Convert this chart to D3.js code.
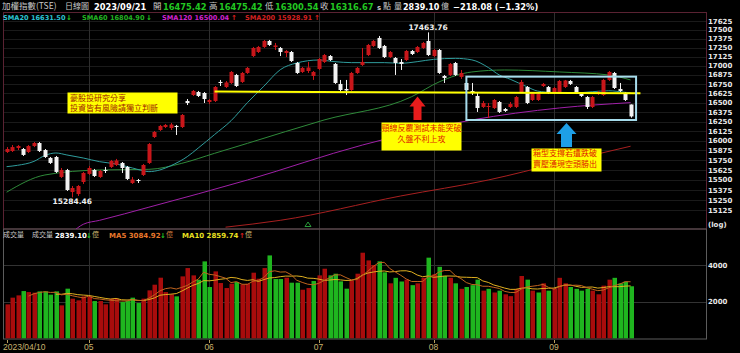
<!DOCTYPE html>
<meta charset="utf-8">
<head>
    <title>加權指數(TSE) 日線圖</title>
    <script src="https://cdn.jsdelivr.net/npm/d3@7/dist/d3.min.js"></script>
</head>

<style>
    body { margin: 0; background: #000; }
    svg { display: block; background: #000; }
    .num { font-family: "DejaVu Sans", sans-serif; font-weight: bold; }
    .cjk { font-family: "Noto Sans CJK TC", sans-serif; }
</style>

<svg></svg>

<script>
    // daily OHLC, 2023/04/10 .. 2023/09/21
    var opens = [15855,15867,15906,15893,15855,15931,15970,15880,15779,15791,
        15538,15626,15350,15325,15475,15576,15626,15538,15626,15664,
        15689,15715,15664,15462,15500,15563,15715,16048,16139,16178,
        16165,16192,16178,16522,16602,16642,16629,16508,16522,16778,
        16710,16764,16873,16778,16900,17133,17189,17259,17343,17259,
        17245,17175,17189,17037,16914,16927,16859,16955,17051,17133,
        17024,16751,16683,16669,16900,17010,17147,17273,17385,17273,
        17119,17106,17051,17078,17203,17189,17245,17343,17133,17217,
        16859,16873,17037,16846,16764,16656,16589,16442,16442,16428,
        16508,16415,16442,16442,16642,16710,16535,16535,16723,16710,
        16629,16642,16710,16791,16710,16629,16575,16442,16615,16602,
        16805,16900,16683,16629,16475.42];
    var highs = [15918,15944,15944,15906,15944,15983,15983,15893,15791,15804,
        15651,15639,15425,15437,15601,15676,15639,15626,15664,15753,
        15766,15727,15676,15538,15513,15702,15970,16126,16205,16218,
        16231,16205,16349,16548,16669,16656,16642,16548,16723,16805,
        16791,16927,16887,16914,16982,17259,17273,17357,17357,17315,
        17259,17217,17203,17051,16982,17051,16927,17106,17161,17147,
        17037,16805,16805,16914,16982,17245,17301,17357,17413,17287,
        17203,17119,17092,17217,17217,17273,17329,17463.76,17231,17231,
        16873,17037,17051,16941,16778,16764,16642,16522,16495,16548,
        16522,16428,16508,16589,16805,16723,16642,16629,16764,16723,
        16710,16805,16805,16805,16723,16642,16589,16589,16656,16819,
        16927,16914,16764,16642,16475.42];
    var lows = [15842,15855,15880,15804,15842,15918,15855,15779,15702,15588,
        15525,15363,15284.46,15301,15450,15563,15538,15525,15588,15651,
        15676,15588,15500,15450,15462,15550,15702,16035,16126,16165,
        16139,16074,16165,16468,16589,16575,16495,16481,16508,16723,
        16696,16751,16710,16764,16887,17119,17175,17245,17273,17217,
        17133,17119,17051,16887,16900,16900,16805,16941,17037,17064,
        16751,16629,16602,16656,16887,16996,17133,17259,17231,17106,
        17106,16873,16941,17064,17147,17175,17231,17133,17119,16887,
        16764,16859,16859,16819,16656,16602,16376,16428,16296,16415,
        16362,16376,16428,16428,16629,16481,16522,16522,16710,16615,
        16615,16629,16696,16737,16615,16575,16415,16428,16602,16589,
        16791,16683,16642,16522,16300.54];
    var closes = [15893,15918,15931,15817,15931,15970,15867,15791,15715,15601,
        15626,15375,15400,15425,15588,15651,15550,15613,15616,15740,
        15746,15651,15513,15506,15487,15689,15957,16113,16192,16205,
        16211,16178,16336,16495,16656,16589,16548,16535,16710,16764,
        16771,16914,16723,16900,16969,17245,17259,17343,17287,17280,
        17189,17203,17064,16900,16969,16975,16914,17092,17147,17078,
        16764,16669,16663,16900,16969,17051,17287,17343,17245,17119,
        17189,17037,17024,17203,17161,17259,17315,17147,17217,16900,
        16832,17024,16873,16900,16669,16629,16428,16495,16455,16535,
        16376,16389,16481,16575,16778,16495,16629,16615,16751,16629,
        16696,16791,16798,16751,16629,16589,16442,16575,16642,16805,
        16914,16696,16656,16534.75,16316.67];
    // turnover, 億
    var volumes = [1853,2218,2343,2578,2523,2490,2561,2561,2381,2561,
        1798,2708,2163,2071,2289,2289,2033,2033,1853,2163,
        2163,1980,2033,2218,1925,2163,2616,2925,3307,2523,
        2398,2289,3379,3833,3434,3197,4197,2798,3652,3016,
        2743,2980,3070,2943,2980,3580,3252,3833,4523,3234,
        3234,3307,3034,3034,2652,2743,3125,3434,3797,3434,
        3525,3107,2708,3161,3525,4670,4251,4000,4200,3600,
        3000,3300,3100,3200,2900,3000,3300,4400,3500,3900,
        3400,3300,3000,2700,2800,2900,3200,2600,2700,2500,
        2600,2400,2300,2700,3400,3200,2600,2500,3000,2600,
        2700,3300,3000,2800,2700,2600,2700,2600,2400,2872.8,
        3200,3300,3000,3085.5,2839.10];

    // moving averages: [day index, value]
    var sma20 = [[0,15668],[2,15685],[5,15735],[7,15810],[9,15842],[11,15817],[14,15778],[17,15731],
        [20,15702],[23,15651],[26,15605],[28,15626],[30,15680],[33,15795],[35,15905],[38,16080],
        [41,16260],[44,16500],[47,16720],[50,16945],[53,17037],[57,17078],[60,17055],[63,17042],
        [69,17042],[72,17033],[75,17055],[78,17087],[82,17101],[85,17080],[88,16975],[90,16873],
        [92,16815],[95,16715],[97,16655],[100,16633],[103,16625],[107,16646],[110,16659],[113,16638],[114,16631.50]];
    var sma60 = [[0,15348],[7,15563],[17,15626],[26,15634],[32,15710],[38,15838],[44,15966],[58,16270],
        [74,16579],[79,16778],[85,16914],[91,16941],[101,16914],[110,16873],[114,16804.90]];
    var sma120 = [[12,14860],[14,14955],[17,15003],[26,15163],[44,15500],[65,15944],[85,16270],[101,16429],[114,16500.04]];
    var sma200 = [[40,14920],[50,15003],[72,15301],[88,15500],[101,15715],[114,15928.91]];

    var monthTickIdx = [0, 15, 37, 57, 78, 100];
    var monthTickLabels = ["2023/04/10", "05", "06", "07", "08", "09"];
    var priceTicks = d3.range(15125, 17626, 125);
    var volTicks = [2000, 4000];

    // annotations in data space
    var supportLine = [[38, 16648], [115.8, 16624]];
    var boxRange = {i0: 84, i1: 115, hi: 16850, lo: 16270};

    // ---------------- layout ----------------
    var W = 740, H = 353;
    var pL = 3, pR = 706, pT = 12.5, pB = 229, vB = 339;
    var svg = d3.select('svg').attr('width', W).attr('height', H);

    var n = closes.length;
    var x = d3.scaleLinear().domain([0, n - 1]).range([6.6, 630.6]);
    var y = d3.scaleLog().domain([15125, 17625]).range([210.3, 21]);
    var yv = d3.scaleLinear().domain([0, 4000]).range([338.3, 265]);

    var RED = '#c8161a', WHITE = '#f2f2f2', VRED = '#a80c0c', VGREEN = '#1fb51f';

    svg.append('clipPath').attr('id', 'clipP').append('rect')
        .attr('x', pL).attr('y', pT).attr('width', pR - pL).attr('height', pB - pT);
    svg.append('clipPath').attr('id', 'clipV').append('rect')
        .attr('x', pL).attr('y', pB).attr('width', pR - pL).attr('height', vB - pB);

    // grid
    var grid = svg.append('g');
    grid.selectAll('line.h').data(priceTicks).enter().append('line')
        .attr('x1', pL).attr('x2', pR)
        .attr('y1', function (d) { return Math.round(y(d)) + 0.5; })
        .attr('y2', function (d) { return Math.round(y(d)) + 0.5; })
        .attr('stroke', '#1a1a1a');
    grid.selectAll('line.vh').data(volTicks).enter().append('line')
        .attr('x1', pL).attr('x2', pR)
        .attr('y1', function (d) { return Math.round(yv(d)) + 0.5; })
        .attr('y2', function (d) { return Math.round(yv(d)) + 0.5; })
        .attr('stroke', '#333');
    grid.selectAll('line.v').data(monthTickIdx.slice(1)).enter().append('line')
        .attr('x1', function (d) { return Math.round(x(d)) + 0.5; })
        .attr('x2', function (d) { return Math.round(x(d)) + 0.5; })
        .attr('y1', pT).attr('y2', vB)
        .attr('stroke', '#2e2e2e');

    // frames
    svg.append('rect').attr('x', pL + 0.5).attr('y', pT).attr('width', pR - pL).attr('height', pB - pT)
        .attr('fill', 'none').attr('stroke', '#5a2232');
    svg.append('rect').attr('x', pL + 0.5).attr('y', pB).attr('width', pR - pL).attr('height', vB - pB)
        .attr('fill', 'none').attr('stroke', '#5c5c5c');

    // moving averages, price panel
    var maLine = d3.line()
        .x(function (d) { return x(d[0]); })
        .y(function (d) { return y(d[1]); })
        .curve(d3.curveMonotoneX);
    var maG = svg.append('g').attr('clip-path', 'url(#clipP)').attr('fill', 'none').attr('stroke-width', 1);
    maG.append('path').attr('d', maLine(sma200)).attr('stroke', '#a82020');
    maG.append('path').attr('d', maLine(sma120)).attr('stroke', '#a020a8');
    maG.append('path').attr('d', maLine(sma60)).attr('stroke', '#2f8a3a');
    maG.append('path').attr('d', maLine(sma20)).attr('stroke', '#2f9c9c');

    // candles
    var idx = d3.range(n);
    var cg = svg.append('g');
    cg.selectAll('line.wick').data(idx).enter().append('line')
        .attr('x1', function (i) { return Math.round(x(i)) + 0.5; })
        .attr('x2', function (i) { return Math.round(x(i)) + 0.5; })
        .attr('y1', function (i) { return y(highs[i]); })
        .attr('y2', function (i) { return y(lows[i]); })
        .attr('stroke', function (i) { return closes[i] >= opens[i] ? RED : WHITE; });
    cg.selectAll('rect').data(idx).enter().append('rect')
        .attr('x', function (i) { return Math.round(x(i)) - 1.5; })
        .attr('width', 4)
        .attr('y', function (i) { return y(Math.max(opens[i], closes[i])); })
        .attr('height', function (i) { return Math.max(1, Math.abs(y(opens[i]) - y(closes[i]))); })
        .attr('fill', function (i) { return closes[i] >= opens[i] ? RED : WHITE; });

    // volume bars
    var vg = svg.append('g').attr('clip-path', 'url(#clipV)');
    vg.selectAll('rect').data(idx).enter().append('rect')
        .attr('x', function (i) { return Math.round(x(i)) - 1.5; })
        .attr('width', 4.5)
        .attr('y', function (i) { return yv(volumes[i]); })
        .attr('height', function (i) { return yv(0) - yv(volumes[i]); })
        .attr('fill', function (i) {
            var prev = i > 0 ? closes[i - 1] : opens[i];
            return closes[i] >= prev ? VRED : VGREEN;
        });

    // volume moving averages
    function movAvg(k) {
        return idx.filter(function (i) { return i >= k - 1; }).map(function (i) {
            return [i, d3.mean(volumes.slice(i - k + 1, i + 1))];
        });
    }
    var vLine = d3.line().x(function (d) { return x(d[0]); }).y(function (d) { return yv(d[1]); });
    vg.append('path').attr('d', vLine(movAvg(10))).attr('fill', 'none').attr('stroke', '#e0b020');
    vg.append('path').attr('d', vLine(movAvg(5))).attr('fill', 'none').attr('stroke', '#c0641e');

    // support line + box + arrows
    svg.append('line')
        .attr('x1', x(supportLine[0][0])).attr('y1', y(supportLine[0][1]))
        .attr('x2', x(supportLine[1][0])).attr('y2', y(supportLine[1][1]))
        .attr('stroke', '#ffff00').attr('stroke-width', 2);
    svg.append('rect')
        .attr('x', x(boxRange.i0)).attr('y', y(boxRange.hi))
        .attr('width', x(boxRange.i1) - x(boxRange.i0)).attr('height', y(boxRange.lo) - y(boxRange.hi))
        .attr('fill', 'none').attr('stroke', '#a6dcec').attr('stroke-width', 2);

    function upArrow(cx, top, bottom, headW, shaftW, headH, color) {
        var p = [[cx, top], [cx + headW / 2, top + headH], [cx + shaftW / 2, top + headH],
            [cx + shaftW / 2, bottom], [cx - shaftW / 2, bottom], [cx - shaftW / 2, top + headH],
            [cx - headW / 2, top + headH]];
        svg.append('path').attr('d', 'M' + p.join('L') + 'Z').attr('fill', color);
    }
    upArrow(417.5, 96.5, 120, 16, 8, 10, '#e81c1c');
    upArrow(566.5, 123, 147, 20, 11, 11, '#1e9fe6');

    // note boxes
    function noteBox(x0, y0, w, h, lines, anchor, color) {
        svg.append('rect').attr('x', x0).attr('y', y0).attr('width', w).attr('height', h).attr('fill', '#ffff00');
        lines.forEach(function (l) {
            svg.append('text').attr('class', 'cjk').attr('x', l[0]).attr('y', l[1])
                .attr('font-size', 8).attr('fill', color).attr('text-anchor', anchor).text(l[2]);
        });
    }
    noteBox(67.5, 92.5, 110, 21, [[70, 100.5, '豪股投研究分享'], [70, 110.5, '投資皆有風險請獨立判斷']], 'start', '#a01c00');
    noteBox(381.5, 122.5, 80, 28, [[421.5, 130.5, '頸線反覆測試未能突破'], [421.5, 141.5, '久盤不利上攻']], 'middle', '#e01a00');
    noteBox(531.5, 148.5, 70, 23, [[533, 156, '箱型支撐若遭跌破'], [533, 167, '賣壓湧現空頭勝出']], 'start', '#e01a00');

    // extreme labels
    var hiIdx = highs.indexOf(d3.max(highs)), loIdx = lows.indexOf(d3.min(lows));
    svg.append('text').attr('class', 'num').attr('font-size', 7.5).attr('fill', '#f0f0f0')
        .attr('x', x(hiIdx)).attr('y', y(highs[hiIdx]) - 2).attr('text-anchor', 'middle')
        .text(d3.format('.2f')(highs[hiIdx]));
    svg.append('text').attr('class', 'num').attr('font-size', 7.5).attr('fill', '#f0f0f0')
        .attr('x', x(loIdx)).attr('y', y(lows[loIdx]) + 7).attr('text-anchor', 'middle')
        .text(d3.format('.2f')(lows[loIdx]));

    // small marker on the price panel floor
    svg.append('path').attr('d', 'M305,226.5L308,222L311,226.5Z').attr('fill', 'none').attr('stroke', '#2a9a3a');

    // axis labels
    svg.selectAll('text.py').data(priceTicks).enter().append('text').attr('class', 'num')
        .attr('x', 708).attr('y', function (d) { return y(d) + 2.5; })
        .attr('font-size', 7).attr('fill', '#e8e8e8').text(function (d) { return d; });
    svg.append('text').attr('class', 'num').attr('x', 708).attr('y', 227).attr('font-size', 7)
        .attr('fill', '#e8e8e8').text('(log)');
    svg.selectAll('text.vy').data(volTicks).enter().append('text').attr('class', 'num')
        .attr('x', 708).attr('y', function (d) { return yv(d) + 2.5; })
        .attr('font-size', 7).attr('fill', '#e8e8e8').text(function (d) { return d; });

    var xa = svg.append('g');
    xa.selectAll('line').data(monthTickIdx).enter().append('line')
        .attr('x1', function (i) { return Math.round(x(i)) + 0.5; })
        .attr('x2', function (i) { return Math.round(x(i)) + 0.5; })
        .attr('y1', vB + 1).attr('y2', vB + 4).attr('stroke', '#b8a060');
    xa.selectAll('text').data(monthTickIdx).enter().append('text')
        .attr('x', function (i, k) { return k === 0 ? 3 : x(i); })
        .attr('y', 350).attr('text-anchor', function (i, k) { return k === 0 ? 'start' : 'middle'; })
        .attr('font-family', 'Liberation Sans, sans-serif').attr('font-size', 8.5).attr('fill', '#c8b46e')
        .text(function (i, k) { return monthTickLabels[k]; });

    // header rows
    function put(xp, yp, str, color, cls, size) {
        svg.append('text').attr('class', cls).attr('x', xp).attr('y', yp)
            .attr('font-size', size).attr('fill', color).text(str);
    }
    var fmt = d3.format('.2f');
    var last = n - 1, chg = closes[last] - closes[last - 1];
    var GRN = '#22c822', GREY = '#c8c8c8';
    put(2, 9, '加權指數(TSE)', GREY, 'cjk', 8.5);
    put(65, 9, '日線圖', GREY, 'cjk', 8);
    put(94, 9.5, '2023/09/21', '#ffffff', 'num', 8.3);
    put(153, 9, '開', GREY, 'cjk', 8.5); put(163, 9.5, fmt(opens[last]), GRN, 'num', 8.3);
    put(209, 9, '高', GREY, 'cjk', 8.5); put(219, 9.5, fmt(highs[last]), GRN, 'num', 8.3);
    put(265, 9, '低', GREY, 'cjk', 8.5); put(275, 9.5, fmt(lows[last]), GRN, 'num', 8.3);
    put(320, 9, '收', GREY, 'cjk', 8.5); put(330, 9.5, fmt(closes[last]), GRN, 'num', 8.3);
    put(377, 9.5, 's', GREY, 'num', 7); put(383, 9, '點', GREY, 'cjk', 8);
    put(394, 9, '量', GREY, 'cjk', 8); put(403, 9.5, fmt(volumes[last]), '#ffffff', 'num', 8);
    put(441, 9, '億', GREY, 'cjk', 8);
    put(453, 9.5, fmt(chg) + ' (' + d3.format('.2%')(chg / closes[last - 1]) + ')', '#ffffff', 'num', 8.3);

    put(3, 19.5, 'SMA20 ' + fmt(sma20[sma20.length - 1][1]), '#2cc4d4', 'num', 6.6);
    put(66, 19.5, '↓', GRN, 'num', 7);
    put(82, 19.5, 'SMA60 ' + fmt(sma60[sma60.length - 1][1]), '#22b422', 'num', 6.6);
    put(146, 19.5, '↓', GRN, 'num', 7);
    put(162, 19.5, 'SMA120 ' + fmt(sma120[sma120.length - 1][1]), '#d022d0', 'num', 6.6);
    put(231, 19.5, '↑', '#e02020', 'num', 7);
    put(245, 19.5, 'SMA200 ' + fmt(sma200[sma200.length - 1][1]), '#d42020', 'num', 6.6);
    put(314, 19.5, '↑', '#e02020', 'num', 7);

    var ma5 = movAvg(5), ma10 = movAvg(10);
    put(3, 237, '成交量', GREY, 'cjk', 7);
    put(32, 237, '成交量', GREY, 'cjk', 7);
    put(55, 237.5, fmt(volumes[last]), '#ffffff', 'num', 7);
    put(86, 237.5, '↓', GRN, 'num', 7); put(92, 237, '億', '#c8b46e', 'cjk', 7);
    put(109, 237.5, 'MA5 ' + fmt(ma5[ma5.length - 1][1]), '#e8782c', 'num', 7);
    put(160, 237.5, '↓', GRN, 'num', 7); put(166, 237, '億', '#c8783c', 'cjk', 7);
    put(182, 237.5, 'MA10 ' + fmt(ma10[ma10.length - 1][1]), '#e8e020', 'num', 7);
    put(239, 237.5, '↑', '#e02020', 'num', 7); put(245, 237, '億', '#c8b46e', 'cjk', 7);
</script>
